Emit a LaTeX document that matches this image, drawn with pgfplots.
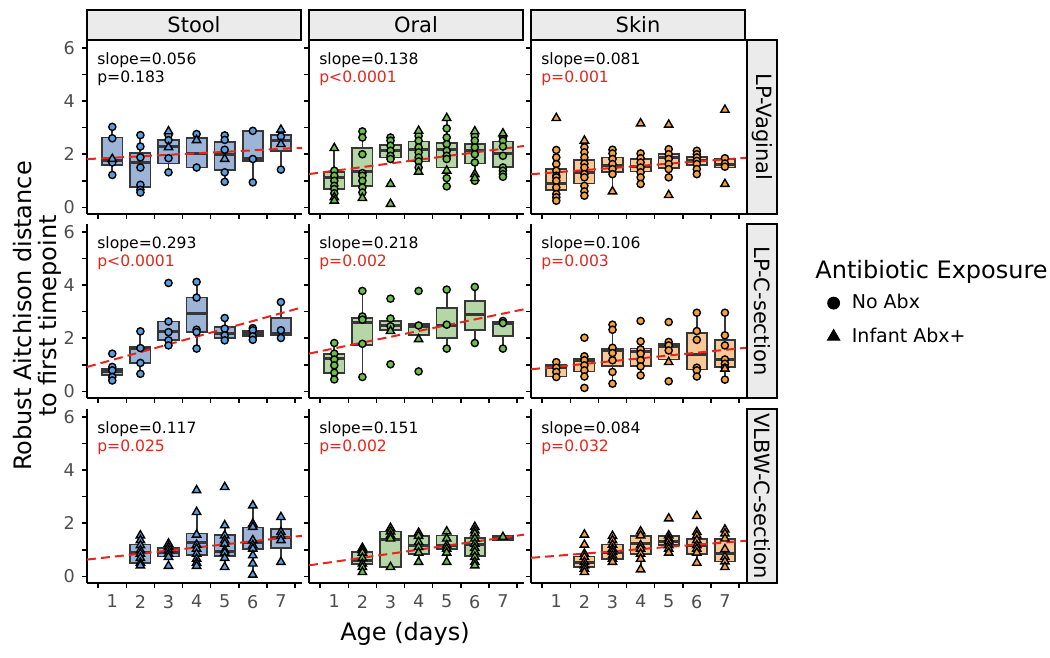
\documentclass[border=0pt]{standalone}
\usepackage{pgfplots}
\pgfplotsset{compat=1.18}
\usepgfplotslibrary{statistics}
\usepackage{fontspec}
\setmainfont{DejaVu Sans}
\definecolor{boxedge}{RGB}{55,55,55}
\definecolor{stoolbox}{RGB}{157,180,217}
\definecolor{stoolpt}{RGB}{86,160,225}
\definecolor{oralbox}{RGB}{181,214,167}
\definecolor{oralpt}{RGB}{108,190,75}
\definecolor{skinbox}{RGB}{248,200,150}
\definecolor{skinpt}{RGB}{247,160,60}
\definecolor{redline}{RGB}{228,38,28}
\definecolor{stripfill}{RGB}{235,235,235}
\definecolor{ticklab}{RGB}{77,77,77}
\pgfplotsset{
  panel/.style={
    scale only axis, width=107.5pt, height=87pt, anchor=north west,
    xmin=0.1, xmax=7.75, ymin=-0.25, ymax=6.3,
    axis x line*=bottom, axis y line*=left,
    axis line style={-, line width=0.9pt, black},
    every outer x axis line/.append style={-},
    every outer y axis line/.append style={-},
    tick align=outside,
    xtick={1,...,7}, minor xtick={0.5,1.5,...,7.5},
    ytick={0,...,6}, yticklabels={0,,2,,4,,6},
    major tick length=2.5pt, minor tick length=2.5pt,
    tick style={black, line width=0.8pt},
    major x tick style={draw=none},
    ticklabel style={font=\fontsize{8.8}{10}\selectfont, text=ticklab},
    /pgf/number format/assume math mode=true,
    clip=false,
    boxplot/draw direction=y,
    boxplot/box extend=0.72,
    boxplot/whisker extend=0,
    boxplot/every whisker/.style={line width=0.9pt, draw=boxedge},
    boxplot/every box/.style={line width=0.9pt, draw=boxedge},
    boxplot/every median/.style={line width=1.5pt, draw=boxedge},
  },
  notop/.style={xticklabels={}},
  noleft/.style={yticklabels={}},
  bxs/.style={draw=boxedge, line width=0.9pt, solid},
  circ/.style={only marks, mark=*, mark size=1.8pt, mark options={draw=black, fill=#1, line width=0.7pt}},
  tri/.style={only marks, mark=triangle*, mark size=2.4pt, mark options={draw=black, fill=#1, line width=0.7pt}},
  regline/.style={color=redline, line width=1pt, dash pattern=on 4.5pt off 2.5pt},
}
\newcommand\bx[7]{\addplot[bxs, fill=#1, boxplot prepared={draw position=#2, lower whisker=#3, lower quartile=#4, median=#5, upper quartile=#6, upper whisker=#7}] coordinates {};}
\newcommand\stat[3]{\node[anchor=north west, inner sep=0pt, align=left, font=\fontsize{7.8}{8.9}\selectfont] at (rel axis cs:0.046,0.93) {slope=#1\\\textcolor{#3}{#2}};}
\begin{document}
\begin{tikzpicture}
\path[use as bounding box] (0,0) rectangle (525pt,-329pt);

% ---------------- Row 1: LP-Vaginal ----------------
\begin{axis}[panel, notop, at={(43.5pt,-20pt)}]
\bx{stoolbox}{1}{1.22}{1.60}{1.75}{2.63}{3.03}
\bx{stoolbox}{2}{0.56}{0.78}{1.69}{2.06}{2.72}
\bx{stoolbox}{3}{1.32}{1.65}{2.28}{2.54}{2.86}
\bx{stoolbox}{4}{1.50}{1.50}{2.04}{2.61}{2.76}
\bx{stoolbox}{5}{0.96}{1.40}{2.00}{2.47}{2.71}
\bx{stoolbox}{6}{0.94}{1.75}{1.85}{2.86}{2.88}
\bx{stoolbox}{7}{1.42}{2.13}{2.51}{2.73}{2.92}
\addplot[regline] coordinates {(0.1,1.816) (7.75,2.244)};
\addplot[circ=stoolpt] coordinates {(1,3.03)(1,2.60)(1,1.69)(1,1.22)(2,2.72)(2,2.29)(2,1.88)(2,1.50)(2,0.85)(2,0.66)(2,0.56)(3,2.72)(3,2.53)(3,1.85)(3,1.32)(4,2.76)(4,1.50)(5,2.71)(5,2.54)(5,2.17)(5,1.32)(5,0.96)(6,2.88)(6,1.82)(6,0.94)(7,2.67)(7,1.42)};
\addplot[tri=stoolpt] coordinates {(1,1.82)(3,2.86)(3,2.26)(4,2.53)(5,1.82)(7,2.92)(7,2.38)};
\stat{0.056}{p=0.183}{black}
\end{axis}

\begin{axis}[panel, notop, noleft, at={(154.5pt,-20pt)}]
\bx{oralbox}{1}{0.25}{0.69}{1.13}{1.34}{2.23}
\bx{oralbox}{2}{0.35}{0.79}{1.34}{2.23}{2.86}
\bx{oralbox}{3}{1.82}{1.88}{2.13}{2.36}{2.63}
\bx{oralbox}{4}{1.34}{1.73}{2.19}{2.48}{2.88}
\bx{oralbox}{5}{0.79}{1.50}{2.17}{2.41}{3.36}
\bx{oralbox}{6}{1.00}{1.65}{2.13}{2.38}{2.86}
\bx{oralbox}{7}{1.15}{1.53}{2.04}{2.48}{2.78}
\addplot[regline] coordinates {(0.1,1.254) (7.75,2.310)};
\addplot[circ=oralpt] coordinates {(1,1.38)(1,1.19)(1,1.00)(1,0.81)(1,0.69)(1,0.53)(2,2.86)(2,2.63)(2,2.00)(2,1.29)(2,1.19)(2,1.00)(2,0.75)(2,0.56)(3,2.63)(3,2.51)(3,2.32)(3,2.13)(3,1.94)(3,1.82)(4,2.69)(4,2.51)(4,2.26)(4,2.07)(4,1.88)(4,1.73)(4,1.50)(5,2.97)(5,2.63)(5,2.38)(5,2.13)(5,1.94)(5,1.82)(5,1.10)(5,0.79)(6,2.69)(6,2.51)(6,2.26)(6,2.00)(6,1.69)(6,1.00)(7,2.63)(7,2.51)(7,2.29)(7,1.94)(7,1.50)(7,1.38)(7,1.25)(7,1.15)};
\addplot[tri=oralpt] coordinates {(1,2.23)(1,0.38)(1,0.25)(2,0.35)(3,0.88)(3,0.13)(4,2.88)(4,1.34)(5,3.36)(5,1.38)(6,2.86)(6,1.25)(6,1.10)(7,2.78)};
\stat{0.138}{p<0.0001}{redline}
\end{axis}

\begin{axis}[panel, notop, noleft, at={(265.5pt,-20pt)}]
\bx{skinbox}{1}{0.25}{0.66}{0.88}{1.44}{2.16}
\bx{skinbox}{2}{0.40}{0.90}{1.32}{1.78}{2.51}
\bx{skinbox}{3}{0.60}{1.32}{1.57}{1.88}{2.17}
\bx{skinbox}{4}{0.88}{1.35}{1.53}{1.82}{2.03}
\bx{skinbox}{5}{1.10}{1.48}{1.88}{2.00}{2.19}
\bx{skinbox}{6}{1.25}{1.59}{1.75}{1.90}{2.13}
\bx{skinbox}{7}{1.48}{1.50}{1.63}{1.82}{1.85}
\addplot[regline] coordinates {(0.1,1.248) (7.75,1.868)};
\addplot[circ=skinpt] coordinates {(1,2.16)(1,1.88)(1,1.63)(1,1.38)(1,1.19)(1,1.13)(1,1.00)(1,0.75)(1,0.50)(1,0.38)(1,0.25)(2,2.26)(2,2.07)(2,1.88)(2,1.65)(2,1.50)(2,1.25)(2,1.13)(2,0.81)(2,0.60)(2,0.44)(3,2.17)(3,2.03)(3,1.82)(3,1.63)(3,1.44)(3,1.25)(4,2.03)(4,1.85)(4,1.69)(4,1.50)(4,1.32)(4,1.13)(4,0.88)(5,2.19)(5,2.00)(5,1.82)(5,1.63)(5,1.44)(5,1.13)(6,2.13)(6,2.00)(6,1.88)(6,1.75)(6,1.63)(6,1.44)(6,1.25)(7,1.85)(7,1.65)(7,1.53)};
\addplot[tri=skinpt] coordinates {(1,3.36)(2,2.51)(3,0.60)(4,3.16)(5,3.11)(5,0.46)(7,3.67)(7,0.88)};
\stat{0.081}{p=0.001}{redline}
\end{axis}

% ---------------- Row 2: LP-C-section ----------------
\begin{axis}[panel, notop, at={(43.5pt,-112pt)}]
\bx{stoolbox}{1}{0.41}{0.63}{0.73}{0.85}{0.92}
\bx{stoolbox}{2}{0.66}{1.07}{1.63}{1.69}{2.26}
\bx{stoolbox}{3}{1.73}{1.92}{2.26}{2.63}{2.63}
\bx{stoolbox}{4}{1.61}{2.23}{2.92}{3.53}{4.12}
\bx{stoolbox}{5}{1.92}{2.01}{2.17}{2.42}{2.76}
\bx{stoolbox}{6}{2.07}{2.07}{2.17}{2.27}{2.27}
\bx{stoolbox}{7}{2.00}{2.11}{2.17}{2.77}{3.36}
\addplot[regline] coordinates {(0.1,0.919) (7.75,3.161)};
\addplot[circ=stoolpt] coordinates {(1,1.42)(1,0.92)(1,0.79)(1,0.54)(1,0.41)(2,2.26)(2,1.63)(2,1.07)(2,0.66)(3,4.08)(3,2.63)(3,2.23)(3,1.92)(3,1.73)(4,4.12)(4,3.53)(4,2.32)(4,2.23)(4,1.61)(5,2.76)(5,2.36)(5,2.11)(5,1.92)(6,2.38)(6,2.30)(6,2.07)(6,1.94)(7,3.36)(7,2.30)(7,2.01)};
\stat{0.293}{p<0.0001}{redline}
\end{axis}

\begin{axis}[panel, notop, noleft, at={(154.5pt,-112pt)}]
\bx{oralbox}{1}{0.45}{0.69}{1.23}{1.42}{1.82}
\bx{oralbox}{2}{0.54}{1.76}{2.61}{2.77}{3.78}
\bx{oralbox}{3}{2.27}{2.32}{2.48}{2.65}{2.74}
\bx{oralbox}{4}{1.96}{2.11}{2.46}{2.55}{2.55}
\bx{oralbox}{5}{1.61}{2.02}{2.48}{3.15}{3.83}
\bx{oralbox}{6}{1.82}{2.32}{2.90}{3.40}{3.93}
\bx{oralbox}{7}{1.61}{2.07}{2.55}{2.61}{2.65}
\addplot[regline] coordinates {(0.1,1.422) (7.75,3.090)};
\addplot[circ=oralpt] coordinates {(1,1.82)(1,1.42)(1,1.20)(1,0.98)(1,0.70)(1,0.45)(2,3.78)(2,2.82)(2,2.70)(2,1.79)(2,0.54)(3,3.49)(3,2.74)(3,2.45)(3,1.02)(4,3.78)(4,2.48)(4,0.75)(5,3.83)(5,2.51)(5,1.61)(6,3.93)(6,1.82)(7,2.65)(7,2.57)(7,1.61)};
\addplot[tri=oralpt] coordinates {(3,2.27)(4,1.96)};
\stat{0.218}{p=0.002}{redline}
\end{axis}

\begin{axis}[panel, notop, noleft, at={(265.5pt,-112pt)}]
\bx{skinbox}{1}{0.54}{0.56}{0.89}{0.98}{1.10}
\bx{skinbox}{2}{0.56}{0.75}{1.17}{1.22}{1.32}
\bx{skinbox}{3}{0.29}{0.94}{1.52}{1.61}{2.51}
\bx{skinbox}{4}{0.60}{0.94}{1.51}{1.61}{1.88}
\bx{skinbox}{5}{1.10}{1.20}{1.67}{1.77}{1.86}
\bx{skinbox}{6}{0.56}{0.82}{1.38}{2.21}{2.96}
\bx{skinbox}{7}{0.44}{0.92}{1.20}{1.92}{2.96}
\addplot[regline] coordinates {(0.1,0.831) (7.75,1.642)};
\addplot[circ=skinpt] coordinates {(1,1.10)(1,0.89)(1,0.73)(1,0.54)(2,2.02)(2,1.32)(2,1.17)(2,0.98)(2,0.79)(2,0.56)(2,0.13)(3,2.51)(3,2.32)(3,1.64)(3,1.44)(3,1.17)(3,0.73)(3,0.29)(4,2.65)(4,1.88)(4,1.58)(4,1.42)(4,1.17)(4,0.94)(4,0.60)(5,2.61)(5,1.86)(5,1.73)(5,1.54)(5,0.38)(6,2.96)(6,2.27)(6,1.94)(6,0.89)(6,0.79)(6,0.56)(7,2.96)(7,2.11)(7,1.73)(7,1.20)(7,1.04)(7,0.89)(7,0.44)};
\addplot[tri=skinpt] coordinates {(5,1.10)(7,0.85)};
\stat{0.106}{p=0.003}{redline}
\end{axis}

% ---------------- Row 3: VLBW-C-section ----------------
\begin{axis}[panel, at={(43.5pt,-204.5pt)}]
\bx{stoolbox}{2}{0.41}{0.51}{0.89}{1.20}{1.54}
\bx{stoolbox}{3}{0.39}{0.75}{0.89}{1.08}{1.23}
\bx{stoolbox}{4}{0.39}{0.79}{1.29}{1.61}{2.42}
\bx{stoolbox}{5}{0.35}{0.77}{0.95}{1.57}{1.92}
\bx{stoolbox}{6}{0.06}{1.04}{1.29}{1.84}{2.67}
\bx{stoolbox}{7}{0.54}{1.07}{1.48}{1.77}{2.23}
\addplot[regline] coordinates {(0.1,0.632) (7.75,1.527)};
\addplot[tri=stoolpt] coordinates {(2,1.54)(2,1.36)(2,1.17)(2,0.98)(2,0.85)(2,0.69)(2,0.51)(2,0.41)(3,1.23)(3,1.10)(3,0.98)(3,0.85)(3,0.73)(3,0.39)(4,3.24)(4,2.42)(4,1.57)(4,1.19)(4,1.04)(4,0.85)(4,0.66)(4,0.51)(4,0.39)(5,3.36)(5,1.92)(5,1.54)(5,1.36)(5,1.23)(5,0.98)(5,0.89)(5,0.69)(5,0.35)(6,2.67)(6,1.98)(6,1.86)(6,1.36)(6,1.17)(6,1.04)(6,0.79)(6,0.48)(6,0.06)(7,2.23)(7,1.67)(7,1.52)(7,1.36)(7,0.54)};
\stat{0.117}{p=0.025}{redline}
\end{axis}

\begin{axis}[panel, noleft, at={(154.5pt,-204.5pt)}]
\bx{oralbox}{2}{0.16}{0.48}{0.60}{0.92}{1.07}
\bx{oralbox}{3}{0.35}{0.35}{1.39}{1.69}{1.82}
\bx{oralbox}{4}{0.54}{0.85}{1.17}{1.52}{1.64}
\bx{oralbox}{5}{0.54}{1.02}{1.17}{1.54}{1.69}
\bx{oralbox}{6}{0.41}{0.77}{1.19}{1.44}{1.86}
\bx{oralbox}{7}{1.36}{1.36}{1.44}{1.52}{1.52}
\addplot[regline] coordinates {(0.1,0.415) (7.75,1.570)};
\addplot[tri=oralpt] coordinates {(2,1.07)(2,0.98)(2,0.89)(2,0.69)(2,0.48)(2,0.35)(2,0.16)(3,1.82)(3,1.69)(3,1.54)(3,1.42)(3,0.35)(4,1.64)(4,1.52)(4,1.29)(4,1.10)(4,0.89)(4,0.54)(5,1.69)(5,1.42)(5,1.17)(5,1.04)(5,0.89)(5,0.54)(6,1.86)(6,1.73)(6,1.61)(6,1.42)(6,1.23)(6,1.07)(6,0.92)(6,0.73)(6,0.54)(6,0.41)(7,1.48)};
\stat{0.151}{p=0.002}{redline}
\end{axis}

\begin{axis}[panel, noleft, at={(265.5pt,-204.5pt)}]
\bx{skinbox}{2}{0.16}{0.35}{0.54}{0.75}{1.19}
\bx{skinbox}{3}{0.54}{0.66}{0.89}{1.20}{1.52}
\bx{skinbox}{4}{0.26}{0.85}{1.23}{1.51}{1.69}
\bx{skinbox}{5}{0.89}{1.17}{1.32}{1.51}{1.54}
\bx{skinbox}{6}{0.51}{0.85}{1.17}{1.42}{1.67}
\bx{skinbox}{7}{0.35}{0.56}{0.85}{1.42}{1.76}
\addplot[regline] coordinates {(0.1,0.698) (7.75,1.341)};
\addplot[tri=skinpt] coordinates {(2,1.57)(2,1.19)(2,0.85)(2,0.73)(2,0.54)(2,0.41)(2,0.29)(2,0.16)(3,1.52)(3,1.36)(3,1.19)(3,1.04)(3,0.92)(3,0.79)(3,0.66)(3,0.54)(4,1.69)(4,1.54)(4,1.17)(4,1.04)(4,0.85)(4,0.66)(4,0.26)(5,2.18)(5,1.54)(5,1.42)(5,1.32)(5,1.17)(5,1.04)(5,0.89)(6,2.27)(6,1.67)(6,1.54)(6,1.36)(6,1.17)(6,1.04)(6,0.89)(6,0.51)(7,1.76)(7,1.61)(7,1.42)(7,1.02)(7,0.73)(7,0.56)(7,0.35)};
\stat{0.084}{p=0.032}{redline}
\end{axis}

% ---------------- legend ----------------
\begin{axis}[hide axis, scale only axis, width=10pt, height=10pt, anchor=north west, at={(413.5pt,-145pt)},
  xmin=0, xmax=1, ymin=0, ymax=1,
  legend style={at={(0,1)}, anchor=north west, draw=none, fill=none, inner sep=0pt,
    font=\fontsize{9.5}{11}\selectfont, row sep=4pt,
    /tikz/every odd column/.style={column sep=4pt}},
  legend cell align=left,
  legend image code/.code={\draw[#1] plot coordinates {(0pt,0pt)};}]
\addlegendimage{only marks, mark=*, mark size=3pt, black}
\addlegendentry{No Abx}
\addlegendimage{only marks, mark=triangle*, mark size=3.6pt, black}
\addlegendentry{Infant Abx+}
\end{axis}
\node[anchor=west, inner sep=0pt, font=\fontsize{12}{14}\selectfont] at (407.5pt,-136pt) {Antibiotic Exposure};

% ---------------- strips ----------------
\foreach \x/\t in {43.5/Stool,154.5/Oral,265.5/Skin} {
  \draw[fill=stripfill, line width=0.8pt] (\x pt,-5pt) rectangle ++(107pt,-15pt);
  \node[inner sep=0pt, font=\fontsize{10.5}{12}\selectfont] at ({\x pt+53.5pt},-12.5pt) {\t};
}
\foreach \y/\t in {-20/LP-Vaginal,-112/LP-C-section,-204.5/VLBW-C-section} {
  \draw[fill=stripfill, line width=0.8pt] (373.5pt,\y pt) rectangle ++(15pt,-87pt);
  \node[inner sep=0pt, rotate=-90, font=\fontsize{10.5}{12}\selectfont] at (381pt,{\y pt-43.5pt}) {\t};
}

% ---------------- axis titles ----------------
\node[rotate=90, align=center, inner sep=0pt, font=\fontsize{12}{12.5}\selectfont] at (18.5pt,-158pt) {Robust Aitchison distance\\to first timepoint};
\node[inner sep=0pt, font=\fontsize{12}{14}\selectfont] at (202.5pt,-317pt) {Age (days)};
\end{tikzpicture}
\end{document}
